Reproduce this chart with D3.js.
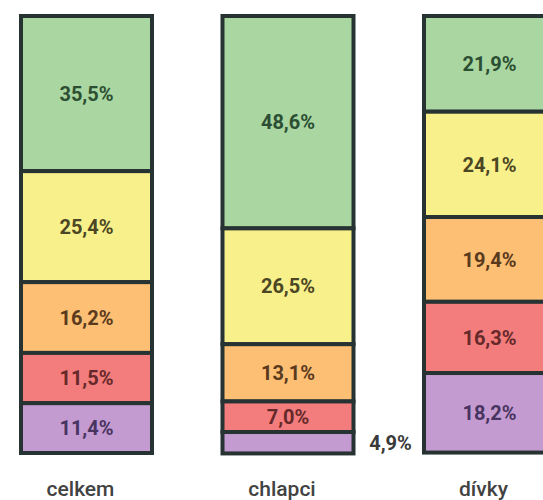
<!DOCTYPE html>
<html>
<head>
<meta charset="utf-8">
<script src="https://cdn.jsdelivr.net/npm/d3@7"></script>
<style>
  body { margin: 0; background: #fff; }
  text { font-family: Roboto, "Noto Sans", sans-serif; }
</style>
</head>
<body>
<div id="chart"></div>
<script>
var width = 543;
var height = 500;

// data, stacked from top to bottom
var groups = ["celkem", "chlapci", "dívky"];
var levels = ["green", "yellow", "orange", "red", "purple"];
var celkem = [35.5, 25.4, 16.2, 11.5, 11.4];
var chlapci = [48.6, 26.5, 13.1, 7.0, 4.9];
var divky = [21.9, 24.1, 19.4, 16.3, 18.2];
var values = [celkem, chlapci, divky];

var fills = ["#a9d6a1", "#f8f08b", "#fcbf74", "#f27d7c", "#c49bd0"];
var textColors = ["#2c4f33", "#4b4623", "#5a3a1d", "#66292a", "#483461"];

var svg = d3.select("#chart")
  .append("svg")
  .attr("width", width)
  .attr("height", height);

var x = d3.scaleBand()
  .domain(groups)
  .range([19, 557])
  .paddingInner(0.33)
  .paddingOuter(0);

// outer edge of the border at 14 and 455
var y = d3.scaleLinear().domain([0, 100]).range([16, 453]);

var fmt = function(v) { return v.toFixed(1).replace(".", ",") + "%"; };

groups.forEach(function(g, gi) {
  var vals = values[gi];
  var acc = 0;
  var segs = vals.map(function(v, i) {
    var s = { v: v, i: i, y0: acc, y1: acc + v };
    acc += v;
    return s;
  });
  var gEl = svg.append("g");
  var bx = x(g) + 2;
  var bw = x.bandwidth() - 4;

  gEl.selectAll("rect")
    .data(segs)
    .enter()
    .append("rect")
    .attr("x", bx)
    .attr("y", function(d) { return y(d.y0); })
    .attr("width", bw)
    .attr("height", function(d) { return y(d.y1) - y(d.y0); })
    .attr("fill", function(d) { return fills[d.i]; })
    .attr("stroke", "#263332")
    .attr("stroke-width", 4);

  gEl.selectAll("text.val")
    .data(segs)
    .enter()
    .append("text")
    .attr("class", "val")
    .attr("x", function(d) {
      return d.v < 6 ? x(g) + x.bandwidth() + 35 : x(g) + x.bandwidth() / 2;
    })
    .attr("y", function(d) { return (y(d.y0) + y(d.y1)) / 2; })
    .attr("dy", "0.36em")
    .attr("text-anchor", "middle")
    .attr("font-size", 20)
    .attr("font-weight", 700)
    .attr("fill", function(d) { return d.v < 6 ? "#3a3a3a" : textColors[d.i]; })
    .text(function(d) { return fmt(d.v); });

  svg.append("text")
    .attr("x", x(g) + x.bandwidth() / 2 - 6)
    .attr("y", 496)
    .attr("text-anchor", "middle")
    .attr("font-size", 21)
    .attr("font-weight", 500)
    .attr("fill", "#424242")
    .text(g);
});
</script>
</body>
</html>
